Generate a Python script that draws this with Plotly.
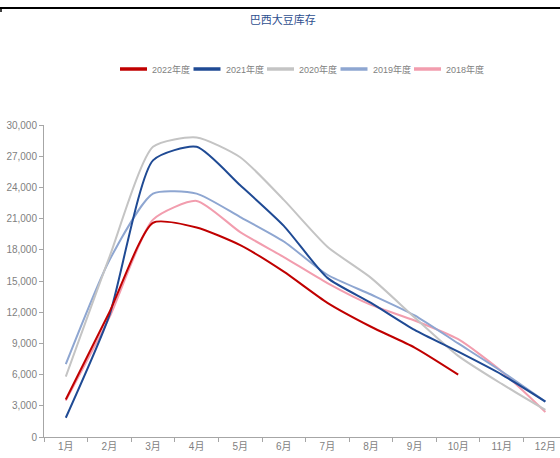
import plotly.graph_objects as go

months = ["1月", "2月", "3月", "4月", "5月", "6月", "7月", "8月", "9月", "10月", "11月", "12月"]

stock_2022 = [3600, 12000, 20600, 20150, 18450, 15900, 12900, 10600, 8600, 6000]
stock_2021 = [1850, 11700, 26600, 27900, 24200, 20300, 15300, 12900, 10300, 8200, 6000, 3400]
stock_2020 = [5800, 17300, 27900, 28800, 26900, 22800, 18300, 15300, 11500, 7800, 5100, 2600]
stock_2019 = [7000, 17000, 23400, 23400, 21150, 18800, 15600, 13700, 11700, 9000, 6300, 3400]
stock_2018 = [3500, 11500, 20900, 22700, 19700, 17300, 14800, 12700, 11200, 9400, 6300, 2400]

series = [
    ("2018年度", stock_2018, "#F29DAE"),
    ("2019年度", stock_2019, "#8EA6D1"),
    ("2020年度", stock_2020, "#C4C4C4"),
    ("2021年度", stock_2021, "#1F4A94"),
    ("2022年度", stock_2022, "#C00000"),
]

W, H = 560, 458
ML, MR, MT, MB = 44, 0, 125, 21
PW, PH = W - ML - MR, H - MT - MB


def px_x(p):
    return (p - ML) / PW


def px_y(p):
    return (H - MB - p) / PH


fig = go.Figure()
for name, vals, color in series:
    fig.add_trace(go.Scatter(
        x=months[:len(vals)], y=vals, name=name, mode="lines", showlegend=False,
        line=dict(color=color, width=2, shape="spline", smoothing=0.6),
    ))

axis_font = dict(family="Liberation Sans Narrow, Arial Narrow, Liberation Sans, Noto Sans CJK SC, sans-serif",
                 size=10, color="#7F7F7F")

# page rule at the top, with a short drop at its left end
shapes = [
    dict(type="line", xref="paper", yref="paper",
         x0=px_x(0), x1=1.0, y0=px_y(8), y1=px_y(8),
         line=dict(color="black", width=2)),
    dict(type="line", xref="paper", yref="paper",
         x0=px_x(1), x1=px_x(1), y0=px_y(8), y1=px_y(12),
         line=dict(color="black", width=1.5)),
]

# legend row: swatch + label per series, newest year first
annotations = []
legend_y = 69
for k, (name, vals, color) in enumerate(reversed(series)):
    x0 = 120 + 73.5 * k
    shapes.append(dict(type="line", xref="paper", yref="paper",
                       x0=px_x(x0), x1=px_x(x0 + 27), y0=px_y(legend_y), y1=px_y(legend_y),
                       line=dict(color=color, width=3.5)))
    annotations.append(dict(xref="paper", yref="paper", x=px_x(x0 + 30), y=px_y(legend_y),
                            text=name, showarrow=False, xanchor="left", yanchor="middle",
                            font=dict(family="Liberation Sans Narrow, Liberation Sans, Noto Sans CJK SC, sans-serif",
                                      size=9, color="#7F7F7F")))

fig.update_layout(
    width=W, height=H,
    margin=dict(l=ML, r=MR, t=MT, b=MB),
    paper_bgcolor="white", plot_bgcolor="white",
    showlegend=False,
    title=dict(text="巴西大豆库存", x=0.505, xanchor="center", y=1 - 20 / H, yref="container",
               yanchor="middle",
               font=dict(family="Noto Sans CJK SC, sans-serif", size=11, color="#2F4F8F")),
    xaxis=dict(type="category", categoryorder="array", categoryarray=months,
               range=[-0.5, 11.335], showgrid=False, zeroline=False,
               showline=True, linecolor="#A6A6A6", linewidth=1,
               ticks="outside", tickson="boundaries", ticklen=4, tickcolor="#A6A6A6",
               tickfont=axis_font),
    yaxis=dict(range=[0, 30000], tickvals=list(range(0, 30001, 3000)), tickformat=",",
               showgrid=False, zeroline=False,
               showline=True, linecolor="#A6A6A6", linewidth=1,
               ticks="outside", ticklen=4, tickcolor="#A6A6A6",
               tickfont=axis_font),
    shapes=shapes,
    annotations=annotations,
)

fig.write_html("out.html")
